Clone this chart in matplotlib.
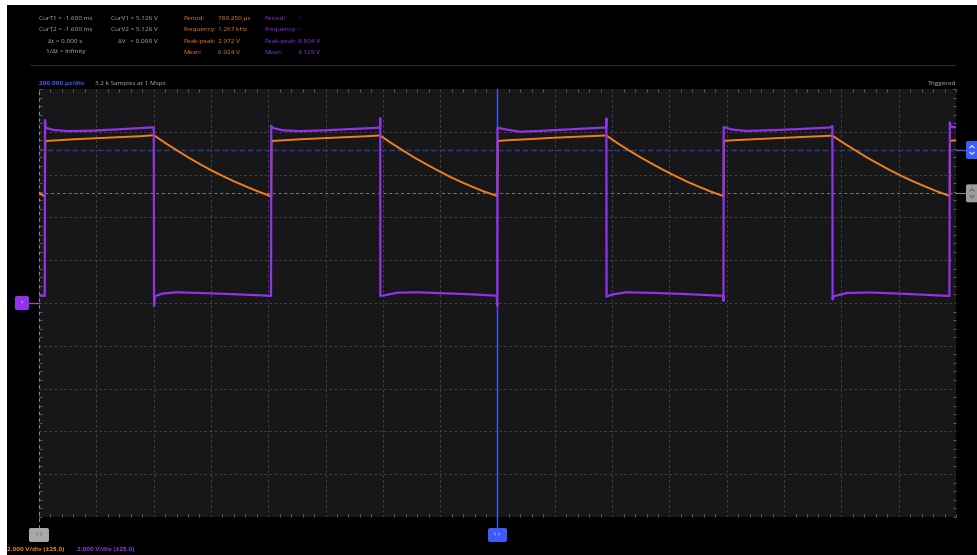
import matplotlib
matplotlib.use('Agg')
import matplotlib.pyplot as plt
from matplotlib.patches import Rectangle, FancyBboxPatch
import numpy as np

plt.rcParams['font.family'] = ['Open Sans', 'DejaVu Sans']

# ---------------- data (time in ms, voltage in V) ----------------
t_min, t_max = -1.6, 1.6          # 16 div x 200 us
v_min, v_max = -10.0, 10.0        # 10 div x 2 V
time_div = 0.2
volt_div = 2.0

ch1_t = [-1.6000, -1.5795, -1.5780, -1.5400, -1.4800, -1.4000, -1.3200, -1.2500, -1.1990,
         -1.1585, -1.1185, -1.0785, -1.0385, -0.9985, -0.9585, -0.9185, -0.8785, -0.8385, -0.7898,
         -0.7888, -0.7500, -0.6900, -0.6100, -0.5300, -0.4600, -0.4098,
         -0.3693, -0.3293, -0.2893, -0.2493, -0.2093, -0.1693, -0.1293, -0.0893, -0.0493, -0.0005,
         0.0005, 0.0400, 0.1000, 0.1800, 0.2600, 0.3300, 0.3795,
         0.4200, 0.4600, 0.5000, 0.5400, 0.5800, 0.6200, 0.6600, 0.7000, 0.7400, 0.7888,
         0.7898, 0.8300, 0.8900, 0.9700, 1.0500, 1.1200, 1.1688,
         1.2093, 1.2493, 1.2893, 1.3293, 1.3693, 1.4093, 1.4493, 1.4893, 1.5293, 1.5780,
         1.5790, 1.6000]
ch1_v = [5.13, 4.98, 7.57, 7.60, 7.65, 7.70, 7.75, 7.79, 7.84,
         7.47, 7.13, 6.80, 6.49, 6.20, 5.93, 5.68, 5.45, 5.23, 4.98,
         7.57, 7.60, 7.65, 7.70, 7.75, 7.79, 7.83,
         7.46, 7.12, 6.79, 6.49, 6.20, 5.92, 5.67, 5.44, 5.22, 5.00,
         7.57, 7.61, 7.65, 7.71, 7.76, 7.80, 7.83,
         7.46, 7.12, 6.80, 6.50, 6.21, 5.94, 5.68, 5.45, 5.23, 4.99,
         7.58, 7.61, 7.65, 7.70, 7.75, 7.79, 7.82,
         7.46, 7.13, 6.80, 6.50, 6.21, 5.94, 5.69, 5.46, 5.24, 5.00,
         7.58, 7.60]

ch2_t = [-1.6000, -1.5800, -1.5790, -1.5770, -1.5500, -1.5000, -1.4200, -1.3300, -1.2500, -1.1995,
         -1.1985, -1.1965, -1.1700, -1.1200, -1.0200, -0.9200, -0.8300, -0.7903,
         -0.7893, -0.7870, -0.7500, -0.6900, -0.6000, -0.5100, -0.4300, -0.4100,
         -0.4093, -0.4088, -0.3900, -0.3500, -0.2800, -0.1800, -0.0800, -0.0030,
         -0.0008, 0.0000, 0.0200, 0.0800, 0.1600, 0.2600, 0.3600, 0.3790,
         0.3800, 0.3806, 0.4000, 0.4500, 0.5500, 0.6500, 0.7500, 0.7880,
         0.7886, 0.7893, 0.8200, 0.8700, 0.9700, 1.0700, 1.1600, 1.1686,
         1.1693, 1.1720, 1.2200, 1.3000, 1.4000, 1.5000, 1.5770,
         1.5785, 1.5820, 1.6000]
ch2_v = [0.34, 0.33, 8.55, 8.19, 8.09, 8.03, 8.05, 8.11, 8.17, 8.21,
         -0.14, 0.31, 0.44, 0.50, 0.46, 0.41, 0.36, 0.33,
         8.28, 8.19, 8.07, 8.03, 8.07, 8.13, 8.18, 8.20,
         8.64, 0.33, 0.37, 0.48, 0.50, 0.45, 0.40, 0.34,
         -0.13, 8.19, 8.13, 8.00, 8.05, 8.12, 8.19, 8.20,
         8.63, 0.30, 0.40, 0.50, 0.47, 0.42, 0.36, 0.33,
         0.10, 8.22, 8.10, 8.04, 8.08, 8.14, 8.20, 8.27,
         0.17, 0.31, 0.47, 0.49, 0.44, 0.38, 0.33,
         8.44, 8.23, 8.21]

trigger_level = 7.15
trigger_time = 0.0
cursor_t = -1.6
cursor_v = 5.126
ch_offset = 0.0

cursor_t_lines = ["CurT1 = -1.600 ms", "CurT2 = -1.600 ms", "\u0394t = 0.000 s", "1/\u0394t = Infinity"]
cursor_v_lines = ["CurV1 = 5.126 V", "CurV2 = 5.126 V", "\u0394V   = 0.000 V"]
stat_labels = ["Period:", "Frequency:", "Peak-peak:", "Mean:"]
ch1_stats = ["789.250 \u00b5s", "1.267 kHz", "2.972 V", "6.924 V"]
ch2_stats = ["--", "--", "8.804 V", "4.129 V"]

# ---------------- colours ----------------
ORANGE = '#f07f1c'
PURPLE = '#9232ea'
BLUE = '#3d5bfb'
GRAYTXT = '#b0b0b0'

W, H = 978, 555
fig = plt.figure(figsize=(9.78, 5.55), dpi=100)
fig.patch.set_facecolor('white')

def fx(x):
    return x / W

def fy(y):
    return 1 - y / H

fig.add_artist(Rectangle((fx(7), 0), 1 - fx(7), fy(5), transform=fig.transFigure,
                         facecolor='black', edgecolor='none', zorder=-5))

PL, PR, PT, PB = 39, 956, 89, 517
ax = fig.add_axes([fx(PL), fy(PB), (PR - PL) / W, (PB - PT) / H])
ax.set_facecolor('#171719')
ax.set_xlim(t_min, t_max)
ax.set_ylim(v_min, v_max)
for s in ax.spines.values():
    s.set_visible(False)

ax.set_xticks(np.arange(t_min + time_div, t_max - 1e-9, time_div))
ax.set_yticks(np.arange(v_min + volt_div, v_max - 1e-9, volt_div))
ax.set_xticks(np.arange(t_min, t_max + 1e-9, time_div / 5), minor=True)
ax.set_yticks(np.arange(v_min, v_max + 1e-9, volt_div / 5), minor=True)
ax.tick_params(which='major', length=0, labelbottom=False, labelleft=False)
ax.tick_params(which='minor', direction='in', length=2.5, width=0.6, color='#6a6a6a',
               top=True, bottom=True, left=True, right=True,
               labelbottom=False, labelleft=False)
ax.grid(True, which='major', color='#4a4a4c', linestyle=(0, (3, 3)), linewidth=0.6)

# reference lines
ax.axhline(trigger_level, color='#2a3c96', lw=1.0, ls=(0, (4, 2)), zorder=2)
ax.axhline(cursor_v, color='#7c7c7c', lw=0.7, ls=(0, (3, 3)), zorder=2)
ext = -(528 - PB) / (PB - PT)
ax.axvline(cursor_t, ymin=ext, ymax=1, color='#8a8a8a', lw=0.8, ls=(0, (3, 3)), clip_on=False, zorder=2)
ax.axvline(trigger_time, ymin=ext, ymax=1, color=BLUE, lw=1.0, clip_on=False, zorder=3)

# traces
ax.plot(ch1_t, ch1_v, color=ORANGE, lw=1.4, zorder=4, solid_joinstyle='round')
ax.plot(ch2_t, ch2_v, color=PURPLE, lw=1.6, zorder=5, solid_joinstyle='round')

# ---------------- overlay (pixel coordinates) ----------------
ov = fig.add_axes([0, 0, 1, 1], zorder=10)
ov.set_xlim(0, W)
ov.set_ylim(H, 0)
ov.axis('off')
ov.patch.set_alpha(0)

FS = 4.6
rows = [18.2, 29.8, 41.3, 52.0]
for txt, y in zip(cursor_t_lines, rows):
    ov.text(65.5, y, txt, ha='center', va='center', fontsize=FS, color=GRAYTXT)
for txt, y in zip(cursor_v_lines, rows):
    ov.text(158, y, txt, ha='right', va='center', fontsize=FS, color=GRAYTXT)
for lab, v1, v2, y in zip(stat_labels, ch1_stats, ch2_stats, rows):
    ov.text(183, y, lab, ha='left', va='center', fontsize=FS, color=ORANGE)
    ov.text(218, y, v1, ha='left', va='center', fontsize=FS, color=ORANGE)
    ov.text(264, y, lab, ha='left', va='center', fontsize=FS, color=PURPLE)
    ov.text(297.5, y, v2, ha='left', va='center', fontsize=FS, color=PURPLE)

ov.plot([30, 955], [64.5, 64.5], color='#2a2a2a', lw=0.8)

ov.text(39, 83, '200.000 \u00b5s/div', ha='left', va='center', fontsize=FS, color=BLUE, fontweight='bold')
ov.text(95, 83, '3.2 k Samples at 1 Msps', ha='left', va='center', fontsize=FS, color=GRAYTXT)
ov.text(956, 83, 'Triggered', ha='right', va='center', fontsize=FS, color=GRAYTXT)

ov.text(7, 549.5, '2.000 V/div (\u00b125.0)', ha='left', va='center', fontsize=FS, color=ORANGE, fontweight='bold')
ov.text(77, 549.5, '2.000 V/div (\u00b125.0)', ha='left', va='center', fontsize=FS, color=PURPLE, fontweight='bold')


def box(x0, y0, w, h, fc):
    ov.add_patch(FancyBboxPatch((x0, y0), w, h, boxstyle='round,pad=0,rounding_size=2',
                                facecolor=fc, edgecolor='none'))


def chevrons(cx, cy, col):
    ov.plot([cx - 2.2, cx, cx + 2.2], [cy - 2.2, cy - 4.4, cy - 2.2], color=col, lw=0.7)
    ov.plot([cx - 2.2, cx, cx + 2.2], [cy + 2.2, cy + 4.4, cy + 2.2], color=col, lw=0.7)


# left channel marker (ground of traces)
y0px = PT + (v_max - ch_offset) / (v_max - v_min) * (PB - PT)
ov.plot([29, PL], [y0px, y0px], color='#b23cc4', lw=1.0)
box(15, y0px - 7, 14, 14, PURPLE)
ov.text(22, y0px, '\u203a', ha='center', va='center', fontsize=6, color='#e8d8ff')

# right markers
ytr = PT + (v_max - trigger_level) / (v_max - v_min) * (PB - PT)
ycv = PT + (v_max - cursor_v) / (v_max - v_min) * (PB - PT)
ov.plot([PR, 966], [ytr, ytr], color=BLUE, lw=1.0)
box(966, ytr - 9, 16, 18, BLUE)
chevrons(972, ytr, 'white')
ov.plot([PR, 966], [ycv, ycv], color='#8a8a8a', lw=0.8)
box(966, ycv - 9, 16, 18, '#9c9c9c')
chevrons(972, ycv, '#5a5a5a')

# bottom markers
xc = PL + (cursor_t - t_min) / (t_max - t_min) * (PR - PL)
xt = PL + (trigger_time - t_min) / (t_max - t_min) * (PR - PL)
box(xc - 10, 528, 20, 14, '#a8a8a8')
ov.text(xc, 535, '\u2039 \u203a', ha='center', va='center', fontsize=5, color='#4a4a4a')
box(xt - 9.5, 528, 19, 14, BLUE)
ov.text(xt, 535, '\u2039 \u203a', ha='center', va='center', fontsize=5, color='white')

fig.savefig('out.png', dpi=100, facecolor=fig.get_facecolor())
